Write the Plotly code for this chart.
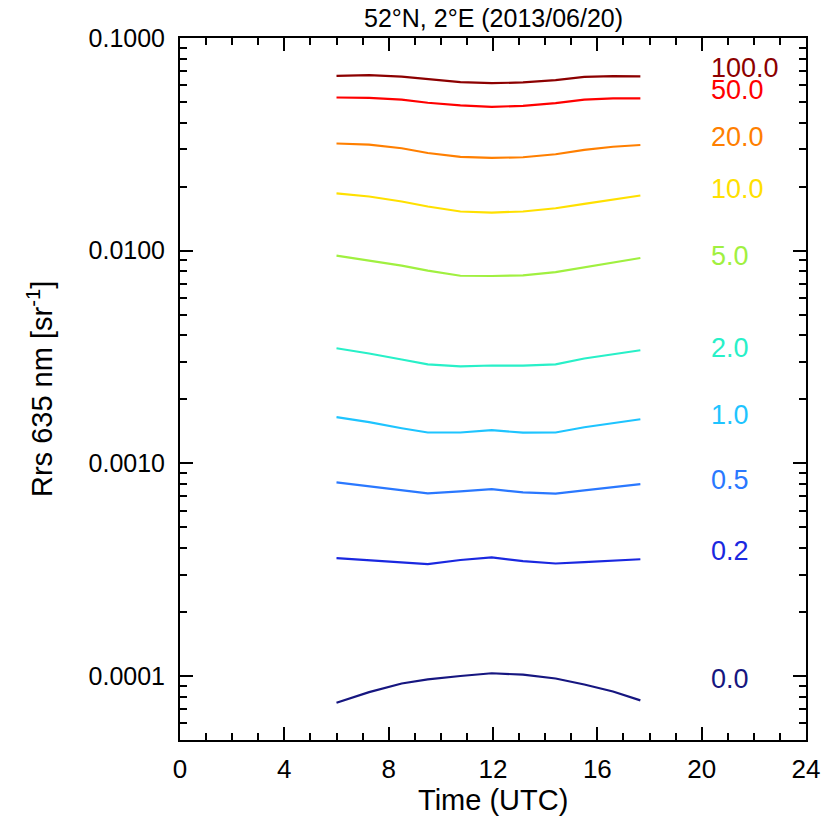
import plotly.graph_objects as go
import math

# Time (UTC, hours)
time_h = [6.0, 7.25, 8.5, 9.5, 10.75, 11.95, 13.15, 14.4, 15.5, 16.6, 17.65]

# Rrs 635 nm [sr^-1] for each SPM concentration label
rrs_100 = [0.0664, 0.0669, 0.0658, 0.0641, 0.0620, 0.0613, 0.0618, 0.0634, 0.0657, 0.0662, 0.0660]
rrs_50 = [0.0525, 0.0523, 0.0513, 0.0496, 0.0482, 0.0474, 0.0480, 0.0494, 0.0513, 0.0520, 0.0520]
rrs_20 = [0.0319, 0.0315, 0.0303, 0.0288, 0.0276, 0.0273, 0.0275, 0.0284, 0.0298, 0.0308, 0.0314]
rrs_10 = [0.01858, 0.01798, 0.01703, 0.01613, 0.01528, 0.01511, 0.01528, 0.01583, 0.01661, 0.0174, 0.01817]
rrs_5 = [0.00947, 0.00900, 0.00850, 0.00805, 0.00762, 0.00760, 0.00766, 0.00792, 0.00836, 0.00878, 0.00924]
rrs_2 = [0.003475, 0.003284, 0.003077, 0.002921, 0.002858, 0.002884, 0.002877, 0.002921, 0.003111, 0.003266, 0.003401]
rrs_1 = [0.001648, 0.001561, 0.001462, 0.001396, 0.001396, 0.001431, 0.001393, 0.001396, 0.001478, 0.001549, 0.001612]
rrs_05 = [0.000814, 0.000779, 0.000742, 0.000722, 0.000738, 0.000756, 0.000730, 0.000720, 0.000746, 0.000775, 0.000799]
rrs_02 = [0.000358, 0.000350, 0.000341, 0.000336, 0.000351, 0.000361, 0.000347, 0.000338, 0.000343, 0.000349, 0.000354]
rrs_00 = [7.48e-5, 8.40e-5, 9.22e-5, 9.63e-5, 1.0e-4, 1.03e-4, 1.014e-4, 9.73e-5, 9.12e-5, 8.45e-5, 7.68e-5]

labels = ["100.0", "50.0", "20.0", "10.0", "5.0", "2.0", "1.0", "0.5", "0.2", "0.0"]
series = [rrs_100, rrs_50, rrs_20, rrs_10, rrs_5, rrs_2, rrs_1, rrs_05, rrs_02, rrs_00]
colors = ["#8c0000", "#ff0000", "#ff7f00", "#ffe000", "#a0f040", "#28f0c8",
          "#1ec4ff", "#2a78ff", "#1a28e0", "#161680"]
label_y = [0.0722, 0.0568, 0.0341, 0.0196, 0.00947, 0.00349, 0.001684, 0.000832, 0.000389, 0.0000968]
label_x = 20.3

FONT = "Liberation Sans, Arial, Helvetica, sans-serif"

fig = go.Figure()
for lab, ys, c in zip(labels, series, colors):
    fig.add_trace(go.Scatter(x=time_h, y=ys, mode="lines", line=dict(color=c, width=2.2),
                             name=lab, showlegend=False, hoverinfo="skip"))

annotations = []
for lab, ly, c in zip(labels, label_y, colors):
    annotations.append(dict(x=label_x, y=math.log10(ly), xref="x", yref="y", text=lab,
                            showarrow=False, xanchor="left", yanchor="middle",
                            font=dict(size=27, color=c, family=FONT)))

annotations.append(dict(x=0.5, y=1.0, xref="paper", yref="paper", yshift=20,
                        text="52°N, 2°E (2013/06/20)", showarrow=False,
                        xanchor="center", yanchor="middle",
                        font=dict(size=25, color="black", family=FONT)))
annotations.append(dict(x=0.5, y=0, xref="paper", yref="paper", yshift=-60,
                        text="Time (UTC)", showarrow=False, xanchor="center", yanchor="middle",
                        font=dict(size=29, color="black", family=FONT)))
annotations.append(dict(x=0, y=0.5, xref="paper", yref="paper", xshift=-140,
                        text="Rrs 635 nm [sr<sup>-1</sup>]", showarrow=False, textangle=-90,
                        xanchor="center", yanchor="middle",
                        font=dict(size=29, color="black", family=FONT)))

fig.update_layout(
    width=837, height=818,
    margin=dict(l=180, r=31, t=38, b=78),
    paper_bgcolor="white", plot_bgcolor="white",
    font=dict(family=FONT, size=25, color="black"),
    annotations=annotations,
    hovermode=False,
    xaxis=dict(range=[0, 24], tickmode="linear", tick0=0, dtick=4,
               ticks="inside", ticklen=13, tickwidth=2, tickcolor="black",
               showline=True, linewidth=2, linecolor="black", mirror="allticks",
               showgrid=False, zeroline=False, tickfont=dict(size=26),
               ticklabelstandoff=5,
               minor=dict(dtick=1, ticks="inside", ticklen=7, tickwidth=2, tickcolor="black",
                          showgrid=False)),
    yaxis=dict(type="log", range=[math.log10(5e-5), -1], tickmode="linear", dtick=1,
               tickformat=".4f",
               ticks="inside", ticklen=13, tickwidth=2, tickcolor="black",
               showline=True, linewidth=2, linecolor="black", mirror="allticks",
               showgrid=False, zeroline=False, tickfont=dict(size=25),
               ticklabelstandoff=8,
               minor=dict(dtick="D1", ticks="inside", ticklen=7, tickwidth=2, tickcolor="black",
                          showgrid=False)),
)

fig.write_html("out.html", config={"displayModeBar": False},
               post_script="document.body.style.margin='0';document.body.style.overflow='hidden';")
